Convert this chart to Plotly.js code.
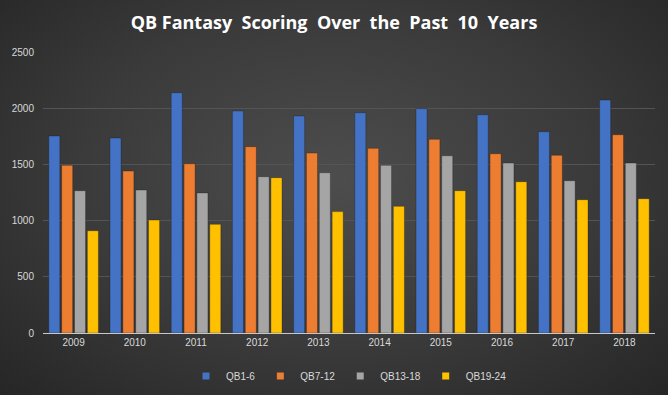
<!DOCTYPE html>
<html>
<head>
<meta charset="utf-8">
<script src="https://cdn.plot.ly/plotly-3.0.1.min.js"></script>
<style>
html,body{margin:0;padding:0;}
body{width:668px;height:395px;overflow:hidden;
background: radial-gradient(ellipse at 50% 45%, #4d4d4d 0%, #3a3a3a 55%, #262626 100%);}
#chart{width:668px;height:395px;}
</style>
</head>
<body>
<div id="chart"></div>
<script>
const years = ["2009","2010","2011","2012","2013","2014","2015","2016","2017","2018"];
const qb1_6   = [1753,1735,2138,1975,1931,1960,1996,1942,1791,2073];
const qb7_12  = [1492,1441,1506,1658,1601,1643,1723,1595,1581,1764];
const qb13_18 = [1266,1272,1246,1391,1426,1492,1577,1512,1355,1512];
const qb19_24 = [910,1005,967,1382,1080,1127,1266,1346,1186,1195];
const seriesNames = ["QB1-6","QB7-12","QB13-18","QB19-24"];
const colors = ["#4472C4","#ED7D31","#A5A5A5","#FFC000"];
const values = [qb1_6, qb7_12, qb13_18, qb19_24];

const traces = values.map((v,i)=>({
  type:'bar', x:years, y:v, name:seriesNames[i], legendgroup:seriesNames[i], showlegend:false,
  marker:{color:colors[i], line:{color:'rgba(20,20,20,0.6)', width:0.5}},
  hoverinfo:'x+y+name'
}));
// legend entries with small square swatches (no data drawn)
const legendTraces = seriesNames.map((n,i)=>({
  type:'scatter', mode:'markers', x:[null], y:[null], name:n, legendgroup:n,
  marker:{symbol:'square', size:7, color:colors[i]}, showlegend:true
}));

const layout = {
  width:668, height:395,
  paper_bgcolor:'rgba(0,0,0,0)', plot_bgcolor:'rgba(0,0,0,0)',
  margin:{l:43, r:13, t:52, b:62, autoexpand:false},
  title:{text:'QB Fantasy  Scoring  Over  the  Past  10  Years', x:0.5, xanchor:'center', y:0.943, yanchor:'middle',
    font:{family:'Open Sans, Liberation Sans, sans-serif', size:18, color:'#ffffff', weight:'bold'}},
  barmode:'group', bargap:0.16, bargroupgap:0.14,
  xaxis:{type:'category', showgrid:false, showline:true, linecolor:'#c8c8c8', linewidth:1,
    ticks:'', tickfont:{family:'Liberation Sans, sans-serif', size:10, color:'#d9d9d9'}},
  yaxis:{range:[0,2500], dtick:500, showgrid:true, gridcolor:'#545454', gridwidth:1,
    zeroline:false, showline:false, ticks:'', ticklabelstandoff:8,
    tickfont:{family:'Liberation Sans, sans-serif', size:10, color:'#d9d9d9'}},
  legend:{orientation:'h', x:0.5, xanchor:'center', yref:'container', y:0.048, yanchor:'middle',
    font:{family:'Liberation Sans, sans-serif', size:10, color:'#d9d9d9'},
    itemwidth:30, tracegroupgap:0, bgcolor:'rgba(0,0,0,0)'},
  showlegend:true
};
Plotly.newPlot('chart', traces.concat(legendTraces), layout, {displayModeBar:false, staticPlot:true});
</script>
</body>
</html>
